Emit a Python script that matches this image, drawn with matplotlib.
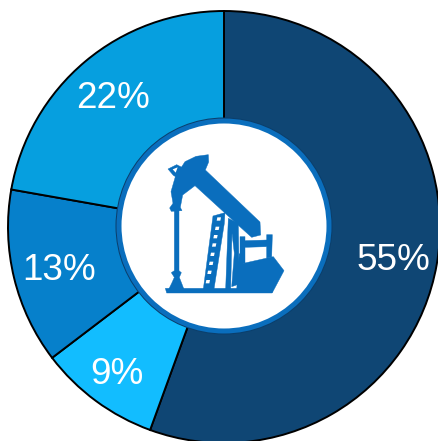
import matplotlib
matplotlib.use("Agg")
import matplotlib.pyplot as plt
from matplotlib.patches import Circle, Polygon

plt.rcParams["font.family"] = ["Liberation Sans", "DejaVu Sans"]

labels = ["55%", "9%", "13%", "22%"]
values = [55, 9, 13, 22]
colors = ["#0F4674", "#12BDFF", "#0680CB", "#069FDF"]
label_pos = [(393, 260), (117, 375), (59, 271), (113, 99)]

W, H = 438, 441
ICON = "#0A6EBD"


def py(y):
    return H - y


# icon outlines were traced on a 3x crop starting at (110, 120)
def icon_xy(points):
    return [(110 + x / 3, py(120 + y / 3)) for x, y in points]


beam = [(295, 104), (296, 126), (286, 150), (450, 306), (452, 345), (425, 352),
        (395, 325), (255, 197), (218, 225), (211, 262), (216, 272), (184, 274),
        (179, 264), (189, 250), (183, 215), (196, 170), (225, 125), (258, 109)]
bridle = [(174, 147), (200, 134), (216, 142), (200, 172), (190, 166)]
bridle_hole = [(188, 148), (203, 142), (197, 158)]
rod = [(193, 270), (207, 270), (207, 452), (214, 458), (208, 472), (215, 490),
       (222, 508), (176, 508), (185, 490), (193, 472), (184, 458), (193, 452)]
base = [(166, 505), (490, 505), (486, 519), (170, 519)]
ladder = [(280, 507), (309, 288), (345, 278), (343, 310), (312, 507)]
post = [(347, 507), (354, 320), (355, 295), (385, 310), (388, 492), (365, 500),
        (373, 400), (366, 340), (362, 507)]
gearbox = [(400, 430), (490, 410), (522, 452), (487, 518), (380, 510), (388, 400)]
crank = [(390, 350), (405, 350), (405, 362), (470, 360), (470, 344), (487, 344),
         (485, 412), (470, 414), (470, 380), (405, 382), (405, 430), (390, 430)]
rungs = [(322, 292), (317, 320), (312, 345), (308, 370), (303, 398), (299, 425), (294, 452), (289, 480)]

fig = plt.figure(figsize=(W / 100, H / 100), dpi=100)
ax = fig.add_axes([0, 0, 1, 1])
ax.pie(values, colors=colors, startangle=90, counterclock=False, radius=216,
       center=(224, py(227)), frame=False,
       wedgeprops={"edgecolor": "black", "linewidth": 1.4})
ax.set_xlim(0, W)
ax.set_ylim(0, H)
ax.set_aspect("equal")
ax.axis("off")

ax.add_patch(Circle((224, py(226)), 108.5, fc="#0B3F6C", ec="none", zorder=3))
ax.add_patch(Circle((224, py(226)), 107.5, fc=ICON, ec="none", zorder=3))
ax.add_patch(Circle((224, py(226)), 102.5, fc="white", ec="none", zorder=3))

for shape in [beam, bridle, rod, base, ladder, post, gearbox, crank]:
    ax.add_patch(Polygon(icon_xy(shape), closed=True, fc=ICON, ec=ICON, lw=0.3, zorder=4))
ax.add_patch(Polygon(icon_xy(bridle_hole), closed=True, fc="white", ec="none", zorder=5))
for x, y in rungs:
    ax.add_patch(Polygon(icon_xy([(x, y), (x + 11, y), (x + 9, y + 10), (x - 2, y + 10)]),
                         closed=True, fc="white", ec="none", zorder=5))

for lab, (x, y) in zip(labels, label_pos):
    ax.text(x, py(y), lab, color="white", fontsize=26.6, ha="center", va="center", zorder=6)

fig.savefig("out.png", dpi=100)
